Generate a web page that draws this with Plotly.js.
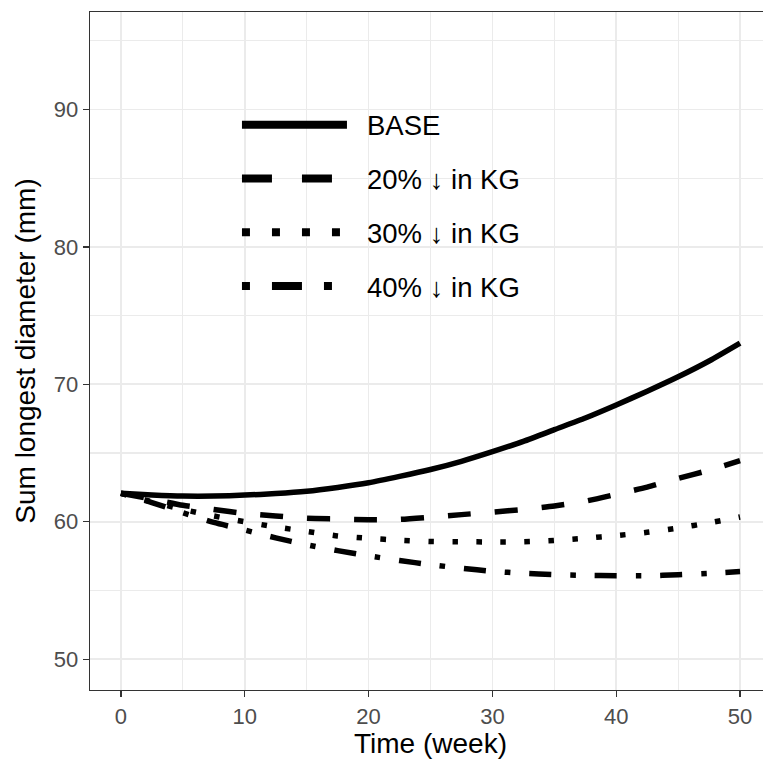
<!DOCTYPE html>
<html>
<head>
<meta charset="utf-8">
<script src="https://cdn.plot.ly/plotly-3.0.1.min.js"></script>
<style>
html,body{margin:0;padding:0;overflow:hidden;background:#fff;}
#chart{width:772px;height:759px;}
</style>
</head>
<body>
<div id="chart"></div>
<script>
// Data
var weeks = [0,2.5,5,7.5,10,12.5,15,17.5,20,22.5,25,27.5,30,32.5,35,37.5,40,42.5,45,47.5,50];
var base  = [62.07,61.95,61.87,61.87,61.94,62.05,62.22,62.5,62.84,63.3,63.8,64.4,65.1,65.85,66.7,67.55,68.5,69.5,70.55,71.7,73.0];
var kg20  = [62.07,61.65,61.2,60.9,60.6,60.42,60.25,60.2,60.15,60.17,60.33,60.52,60.7,60.9,61.15,61.5,62.0,62.52,63.15,63.75,64.45];
var kg30  = [62.07,61.45,60.9,60.42,60.0,59.62,59.3,58.97,58.8,58.66,58.56,58.55,58.53,58.54,58.64,58.8,59.0,59.23,59.55,59.92,60.35];
var kg40  = [62.07,61.4,60.65,59.95,59.4,58.83,58.33,57.9,57.52,57.18,56.88,56.62,56.4,56.25,56.16,56.1,56.07,56.07,56.15,56.25,56.38];
var seriesNames = ["BASE","20% \u2193 in KG","30% \u2193 in KG","40% \u2193 in KG"];
var xTicks = [0,10,20,30,40,50];
var yTicks = [50,60,70,80,90];

var seriesValues = [base, kg20, kg30, kg40];
var plotDash   = ["solid", "23px,24px", "5.5px,18.5px", "5.5px,19px,22px,19px"];
// legend keys: 105px visible pattern followed by a blank gap before the label
var legendDash = ["105px,300px",
                  "30px,30px,30px,300px",
                  "8px,22px,8px,22px,8px,22px,8px,300px",
                  "8px,22px,30px,22px,8px,300px"];

var traces = [];
seriesValues.forEach(function(v, i){
  traces.push({
    x: weeks, y: v, type: "scatter", mode: "lines",
    line: {color: "#000000", width: 5.5, dash: plotDash[i], shape: "spline", smoothing: 0.6},
    name: seriesNames[i], showlegend: false, hoverinfo: "skip"
  });
});
// legend entries (wider key lines, as in the reference legend)
seriesNames.forEach(function(n, i){
  traces.push({
    x: [null], y: [null], type: "scatter", mode: "lines",
    line: {color: "#000000", width: 8, dash: legendDash[i]},
    name: n, showlegend: true, legendgroup: "g" + i
  });
});

var tickFont = {family: "Liberation Sans, Arial, sans-serif", size: 22, color: "#4D4D4D"};
var titleFont = {family: "Liberation Sans, Arial, sans-serif", size: 28, color: "#000000"};

var layout = {
  width: 772, height: 759,
  margin: {l: 90, r: 1, t: 12, b: 69},
  paper_bgcolor: "#ffffff", plot_bgcolor: "#ffffff",
  showlegend: true,
  legend: {
    x: 0.2158, y: 0.8697, xanchor: "left", yanchor: "top",
    bgcolor: "rgba(0,0,0,0)", borderwidth: 0,
    font: {family: "Liberation Sans, DejaVu Sans, sans-serif", size: 27.5, color: "#000000"},
    traceorder: "grouped", tracegroupgap: 15, itemwidth: 120
  },
  shapes: [{
    type: "rect", xref: "paper", yref: "paper", layer: "between",
    x0: 0.1733, x1: 0.683, y0: 0.4912, y1: 0.9277,
    fillcolor: "#ffffff", line: {width: 0}
  }],
  xaxis: {
    range: [-2.5, 52.5], tickvals: xTicks, ticktext: xTicks.map(String),
    showgrid: true, gridcolor: "#EBEBEB", gridwidth: 1.8,
    minor: {dtick: 5, tick0: 0, showgrid: true, gridcolor: "#EBEBEB", gridwidth: 1.2, ticks: ""},
    zeroline: false, showline: true, mirror: true, linecolor: "#333333", linewidth: 1.3,
    ticks: "outside", ticklen: 6, tickwidth: 1.3, tickcolor: "#333333",
    tickfont: tickFont,
    title: {text: "Time (week)", font: titleFont, standoff: 8}
  },
  yaxis: {
    range: [47.76, 97.09], tickvals: yTicks, ticktext: yTicks.map(String),
    showgrid: true, gridcolor: "#EBEBEB", gridwidth: 1.8,
    minor: {dtick: 5, tick0: 0, showgrid: true, gridcolor: "#EBEBEB", gridwidth: 1.2, ticks: ""},
    zeroline: false, showline: true, mirror: true, linecolor: "#333333", linewidth: 1.3,
    ticks: "outside", ticklen: 6, tickwidth: 1.3, tickcolor: "#333333",
    tickfont: tickFont,
    title: {text: "Sum longest diameter (mm)", font: titleFont, standoff: 10}
  }
};

Plotly.newPlot("chart", traces, layout, {displayModeBar: false, staticPlot: true});
</script>
</body>
</html>
